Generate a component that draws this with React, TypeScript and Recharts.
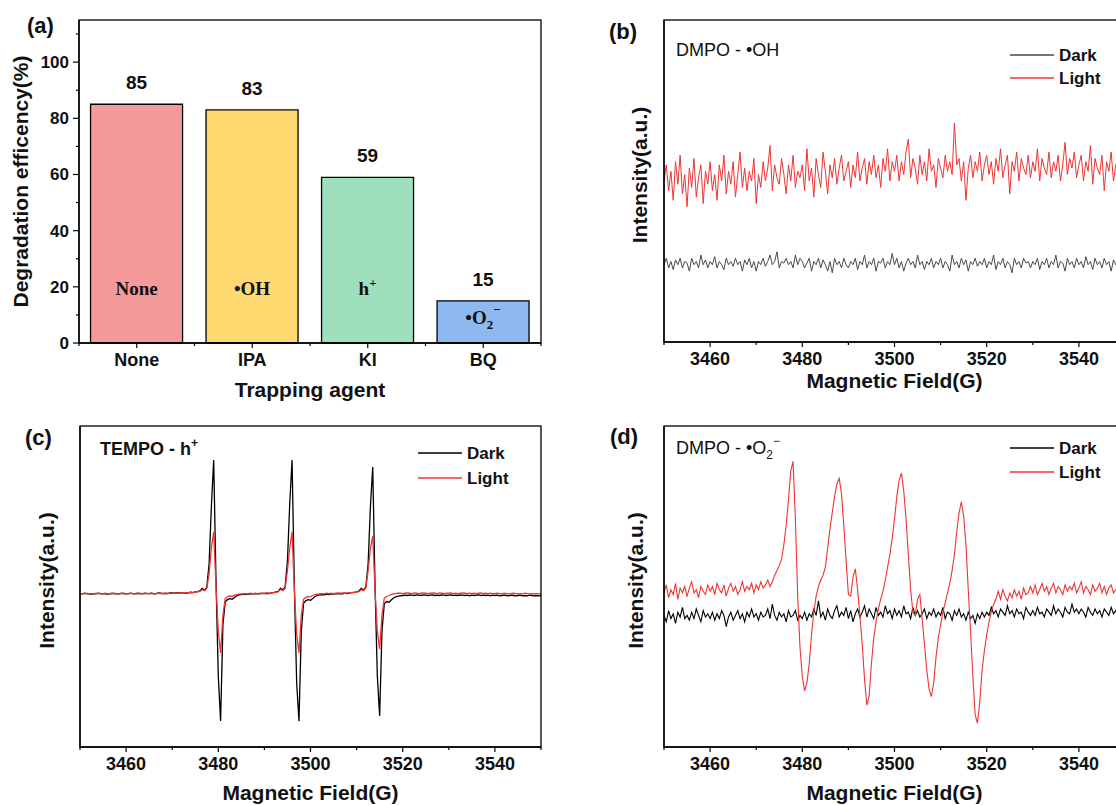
import React from 'react';
import { BarChart, Bar, Cell, LabelList, LineChart, Line, XAxis, YAxis } from 'recharts';

// (a) trapping experiment
const AGENTS = ['None', 'IPA', 'KI', 'BQ'];
const EFFICIENCY = [85, 83, 59, 15];
const BAR_COLORS = ['#F5999A', '#FDD970', '#9EE0BB', '#8EB8F0'];
const RADICAL = ['None', '•OH', 'h', '•O'];
const RADICAL_SUB = ['', '', '', '2'];
const RADICAL_SUP = ['', '', '+', '−'];
const EFF_TICKS = [0, 10, 20, 30, 40, 50, 60, 70, 80, 90, 100, 110];
const EFF_LABELS = [0, 20, 40, 60, 80, 100];
const EFF_MAX = 115;

// (b)-(d) ESR spectra, 0.5 G steps from 3450 to 3550 G
const FIELD = Array.from({ length: 201 }, (_, i) => 3450 + i * 0.5);
const FIELD_MIN = 3450;
const FIELD_MAX = 3550;
const FIELD_TICKS = [3450, 3460, 3470, 3480, 3490, 3500, 3510, 3520, 3530, 3540, 3550];
const FIELD_LABELS = [3460, 3480, 3500, 3520, 3540];
const INTENSITY_MAX = 100;

const OH_DARK = [
  24, 26, 23, 25, 22.5, 25.5, 24, 26, 23, 25, 24.5, 22, 26, 24, 25, 23, 27, 24, 25.5, 23,
  25, 24, 26.5, 23, 25, 24, 22.5, 26, 24, 25, 23.5, 26, 24, 25, 22, 25.5, 24, 26, 23, 25,
  22, 25, 24, 26, 23.5, 25, 27, 24, 25, 28, 23, 25, 24.5, 26, 24, 25, 23, 27, 24, 26,
  25, 23, 24.5, 26, 22, 25, 24, 26, 23, 25.5, 24, 22, 25, 21.5, 26, 24, 25, 23, 26, 24,
  23, 25, 24, 26, 22.5, 25, 24, 27, 23, 25, 24, 26, 22, 25, 24.5, 26, 23, 25, 24, 27.5,
  24, 26, 23, 25, 22, 24.5, 26, 24, 25, 23, 27, 24, 25, 22.5, 25, 24, 26, 23, 25, 24,
  26, 23, 25, 24, 22, 27, 24, 25, 23, 26, 24, 25.5, 22, 25, 24, 26, 23.5, 25, 24, 26,
  23, 25, 24, 27, 22.5, 25, 24, 26, 23, 25, 24, 21.5, 26, 24, 25, 23, 26, 24.5, 25, 23,
  25, 24, 26, 22.5, 25, 24, 26, 23, 25, 24, 27, 23, 25, 24.5, 22, 26, 24, 25, 23, 26,
  24, 25, 23, 26.5, 24, 25, 22.5, 26, 24, 25, 23, 26, 24, 25, 22, 25.5, 24, 26, 23, 25,
  24,
];
const OH_LIGHT = [
  50, 55, 47, 53, 44, 56, 49, 58, 46, 52, 42, 54, 48, 57, 45, 51, 55, 43, 53, 49,
  56, 47, 52, 44, 55, 50, 58, 46, 53, 49, 56, 45, 52, 59, 48, 54, 47, 53, 50, 57,
  43, 52, 48, 56, 50, 54, 61, 47, 55, 51, 49, 57, 52, 46, 55, 50, 58, 48, 53, 51,
  55, 47, 60, 50, 54, 45, 57, 52, 48, 59, 53, 46, 55, 51, 57, 49, 54, 58, 50, 53,
  56, 48, 55, 51, 59, 50, 54, 57, 49, 56, 52, 58, 51, 55, 48, 57, 53, 60, 50, 56,
  53, 58, 50, 56, 52, 59, 63, 51, 57, 54, 49, 58, 52, 56, 50, 60, 53, 55, 48, 57,
  54, 51, 58, 53, 56, 52, 68, 55, 57, 50, 56, 44, 54, 58, 51, 56, 53, 59, 50, 55,
  58, 52, 56, 49, 57, 53, 60, 51, 55, 58, 46, 56, 53, 59, 50, 57, 54, 52, 58, 51,
  56, 53, 60, 50, 57, 54, 52, 59, 51, 56, 53, 58, 50, 55, 62, 52, 57, 54, 59, 51,
  55, 58, 50, 56, 53, 61, 49, 57, 54, 52, 58, 47, 56, 53, 59, 50, 55, 57, 48, 54,
  56,
];

const TEMPO_DARK = [
  47.8, 47.7, 47.9, 47.7, 47.8, 47.6, 47.8, 47.7, 47.9, 47.8, 47.7, 47.8, 47.6, 47.8, 47.9, 47.7, 47.8, 47.7, 47.9, 47.8,
  47.7, 47.8, 47.9, 47.7, 47.8, 47.9, 47.8, 47.7, 47.9, 47.8, 47.8, 47.9, 47.7, 47.8, 48.0, 47.9, 47.8, 47.9, 47.8, 48.0,
  48.0, 47.9, 48.1, 47.9, 48.0, 48.1, 47.9, 48.0, 48.2, 48.1, 48.3, 48.4, 48.6, 49.4, 48.8, 49.8, 57, 75, 89.4, 52,
  22, 8.1, 38, 45.2, 45.9, 46.2, 46.0, 46.6, 47.1, 47.4, 47.5, 47.6, 47.5, 47.7, 47.6, 47.8, 47.7, 47.8, 47.7, 47.9,
  47.8, 47.9, 47.8, 48.0, 48.1, 48.3, 48.5, 49.5, 48.9, 50.0, 58, 76, 89.4, 50, 20, 8.0, 36, 44.8, 45.6, 45.9,
  45.7, 46.3, 46.9, 47.2, 47.4, 47.5, 47.4, 47.6, 47.5, 47.7, 47.6, 47.8, 47.7, 47.8, 47.7, 47.9, 47.8, 48.0, 48.1, 48.2,
  48.3, 48.6, 49.4, 48.9, 49.8, 57, 75, 87.2, 50, 22, 9.7, 36, 44.6, 45.3, 45.1, 45.8, 46.4, 46.8, 47.0, 47.1,
  47.2, 47.3, 47.2, 47.4, 47.3, 47.2, 47.4, 47.3, 47.2, 47.4, 47.3, 47.2, 47.3, 47.4, 47.2, 47.3, 47.2, 47.4, 47.3, 47.2,
  47.3, 47.4, 47.2, 47.3, 47.2, 47.4, 47.3, 47.2, 47.3, 47.1, 47.3, 47.2, 47.3, 47.4, 47.2, 47.3, 47.2, 47.3, 47.1, 47.3,
  47.2, 47.3, 47.1, 47.2, 47.3, 47.2, 47.1, 47.3, 47.2, 47.1, 47.2, 47.3, 47.1, 47.2, 47.1, 47.3, 47.2, 47.1, 47.2, 47.1,
  47.2,
];
const TEMPO_LIGHT = [
  47.7, 47.8, 47.7, 47.9, 47.7, 47.8, 47.7, 47.9, 47.8, 47.7, 47.8, 47.9, 47.7, 47.8, 47.7, 47.9, 47.8, 47.7, 47.8, 47.9,
  47.8, 47.7, 47.9, 47.8, 47.7, 47.8, 47.9, 47.8, 47.7, 47.9, 47.8, 47.9, 47.8, 47.7, 47.9, 47.8, 47.9, 47.8, 47.9, 47.8,
  47.9, 48.0, 47.9, 48.0, 47.9, 48.1, 48.0, 48.1, 48.2, 48.1, 48.3, 48.3, 48.5, 49.0, 48.7, 49.4, 54, 62, 67, 50,
  36, 29.3, 41, 46.2, 46.8, 47.1, 46.9, 47.3, 47.5, 47.6, 47.7, 47.8, 47.7, 47.8, 47.9, 47.8, 47.9, 47.8, 47.9, 47.8,
  47.9, 48.0, 47.9, 48.0, 48.1, 48.2, 48.4, 49.1, 48.7, 49.4, 55, 62, 67, 49, 35, 29.3, 41, 46, 46.6, 46.9,
  46.8, 47.2, 47.5, 47.6, 47.7, 47.8, 47.7, 47.9, 47.8, 47.9, 47.8, 47.9, 48.0, 47.9, 48.0, 47.9, 48.0, 48.1, 48.1, 48.2,
  48.3, 48.4, 49.0, 48.7, 49.5, 55, 62, 65.7, 49, 36, 30.5, 41, 46.3, 46.9, 47.2, 47.5, 47.7, 47.8, 47.9, 47.9,
  47.8, 47.9, 48.0, 47.9, 47.8, 48.0, 47.9, 47.8, 47.9, 48.0, 47.9, 47.8, 47.9, 48.0, 47.9, 47.8, 48.0, 47.9, 47.8, 47.9,
  47.9, 48.0, 47.8, 47.9, 47.8, 47.9, 48.0, 47.9, 47.8, 47.9, 47.8, 47.9, 47.8, 47.9, 48.0, 47.8, 47.9, 47.8, 47.9, 47.8,
  47.8, 47.9, 47.8, 47.7, 47.9, 47.8, 47.7, 47.8, 47.9, 47.8, 47.7, 47.8, 47.7, 47.9, 47.8, 47.7, 47.8, 47.7, 47.8, 47.7,
  47.8,
];

const O2_DARK = [
  41, 39, 42.5, 40, 41.5, 38.5, 42, 40.5, 43.5, 40, 41, 39.5, 42, 40, 43, 41, 39, 42.5, 40.5, 41.5,
  40, 42, 39.5, 41.5, 40, 42.5, 41, 37.5, 40.5, 42, 39.5, 41, 42.5, 40, 41.5, 39, 42, 40.5, 43, 40.5,
  41.5, 39.5, 42, 40.5, 41, 43, 40, 44.5, 41, 39.5, 42, 40.5, 41.5, 39, 42.5, 40.5, 41, 42.5, 39.5, 41,
  40, 42, 39.5, 41.5, 40.5, 43, 41, 45.5, 40.5, 42, 39.5, 43, 41, 40, 42.5, 44, 40.5, 42, 41, 43.5,
  40, 42.5, 39, 41.5, 43, 40.5, 42, 44, 40.5, 43, 41.5, 40, 43.5, 41, 42, 40.5, 44, 41.5, 42.5, 40,
  43, 41, 42.5, 40.5, 44, 41.5, 42, 40, 43.5, 41, 42.5, 40.5, 41.5, 43, 40, 42, 41, 43, 40.5, 42,
  41, 43.5, 40, 42, 41.5, 39.5, 42.5, 41, 43, 40.5, 41.5, 39.5, 42, 40, 41, 38.5, 41.5, 40, 42, 40.5,
  42, 41, 43.5, 41.5, 42.5, 40.5, 43, 42, 41, 44, 41.5, 42.5, 40.5, 43, 41.5, 42, 40, 43.5, 42, 41,
  42.5, 41, 43.5, 41.5, 42, 40.5, 43, 42, 41, 44, 41.5, 43, 42, 40.5, 43.5, 42, 41.5, 44.5, 42, 43,
  41.5, 43, 42, 40.5, 43.5, 42, 41, 43, 41.5, 42.5, 40.5, 43, 42, 41, 43.5, 41.5, 42.5, 40, 43, 41.5,
  42,
];
const O2_LIGHT = [
  48, 50.5, 46.5, 49, 47.5, 51, 46, 49.5, 48, 50, 47, 49.5, 51.5, 48, 49, 46.5, 50, 48.5, 47.5, 50.5,
  48.5, 50, 47.5, 51, 49, 48, 50.5, 47, 49.5, 51, 48.5, 50, 47.5, 49, 51.5, 48.5, 50, 49, 51, 48,
  50.5, 49, 51.5, 49.5, 50.5, 52, 50, 51.5, 53.5, 55, 56.5, 58.5, 63, 69, 77, 86, 89, 71, 47, 31,
  22, 17.5, 20, 26, 35, 42, 47, 50, 52, 53.5, 56, 62, 68, 73, 78, 82, 83.7, 79, 69, 58,
  47.5, 47, 53, 55.5, 49, 41, 32, 21, 13, 16, 26, 34, 39, 43, 46, 48.5, 52, 56, 60, 65,
  71, 78, 83, 85.3, 80, 71, 60, 49, 42, 41, 46, 47.5, 40, 32, 24, 18, 15.7, 20, 28, 34,
  38, 42, 45, 48, 51, 55, 60, 67, 73, 76.4, 72, 63, 49, 36, 22, 10, 7.4, 14, 24, 30,
  35, 39, 42, 44.5, 46, 48.5, 46, 49, 47, 45.5, 48, 46.5, 49, 47, 48.5, 46, 49.5, 47.5, 48, 50,
  48, 50.5, 47.5, 49, 51, 48.5, 50, 47.5, 49.5, 51, 48, 50, 49, 47.5, 50.5, 48.5, 50, 49, 51, 48,
  49.5, 51.5, 48, 50, 49, 47.5, 50.5, 48.5, 49.5, 51, 48, 50, 47.5, 49.5, 50.5, 48, 49, 50.5, 47.5, 49,
  48.5,
];

const AXIS_LINE = { stroke: '#000', strokeWidth: 1.3 };
const RED = '#EF3434';

// panel boxes: chart position/size, margins and axis sizes
const LAYOUT_A = { left: 0, top: 0, width: 560, height: 405, marginTop: 20, marginRight: 19, yAxisWidth: 79, xAxisHeight: 62 };
const LAYOUT_B = { left: 560, top: 0, width: 580, height: 405, marginTop: 20, marginRight: 15, yAxisWidth: 104, xAxisHeight: 63 };
const LAYOUT_C = { left: 0, top: 405, width: 560, height: 400, marginTop: 21, marginRight: 19, yAxisWidth: 80, xAxisHeight: 58 };
const LAYOUT_D = { left: 560, top: 405, width: 580, height: 400, marginTop: 21, marginRight: 15, yAxisWidth: 104, xAxisHeight: 58 };

const plotBox = (l: any) => ({
  x: l.left + l.yAxisWidth,
  y: l.top + l.marginTop,
  w: l.width - l.marginRight - l.yAxisWidth,
  h: l.height - l.marginTop - l.xAxisHeight,
});
const A_PLOT_W = plotBox(LAYOUT_A).w;

function EffTick(props: any) {
  const { x, y, payload } = props;
  const labeled = EFF_LABELS.includes(payload.value);
  return (
    <g>
      <line x1={x} y1={y} x2={x - (labeled ? 6 : 3)} y2={y} stroke="#000" strokeWidth={1.2} />
      {labeled && (
        <text x={x - 10} y={y + 6} textAnchor="end" fontSize={17} fontWeight="bold" fill="#111">
          {payload.value}
        </text>
      )}
    </g>
  );
}

function AgentTick(props: any) {
  const { x, y, payload, index } = props;
  const half = A_PLOT_W / AGENTS.length / 2;
  return (
    <g stroke="#000" strokeWidth={1.2}>
      <line x1={x} y1={y} x2={x} y2={y + 5} />
      <line x1={x - half} y1={y} x2={x - half} y2={y + 3} />
      {index === AGENTS.length - 1 && <line x1={x + half} y1={y} x2={x + half} y2={y + 3} />}
      <text x={x} y={y + 23} textAnchor="middle" fontSize={18} fontWeight="bold" fill="#111" stroke="none">
        {payload.value}
      </text>
    </g>
  );
}

function FieldTick(props: any) {
  const { x, y, payload } = props;
  const labeled = FIELD_LABELS.includes(payload.value);
  return (
    <g>
      <line x1={x} y1={y} x2={x} y2={y + (labeled ? 5 : 3)} stroke="#000" strokeWidth={1.2} />
      {labeled && (
        <text x={x} y={y + 23} textAnchor="middle" fontSize={18} fontWeight="bold" fill="#111">
          {payload.value}
        </text>
      )}
    </g>
  );
}

// radical name inside each bar: low in tall bars, centred in short ones
function RadicalLabel(props: any) {
  const { x, y, width, height, index } = props;
  const baseline = Math.max(y + height - 48, y + height / 2 + 2);
  const sub = RADICAL_SUB[index];
  const sup = RADICAL_SUP[index];
  return (
    <text
      x={x + width / 2}
      y={baseline}
      textAnchor="middle"
      fontFamily="'Liberation Serif', 'Times New Roman', serif"
      fontWeight="bold"
      fontSize={19}
      fill="#111"
    >
      {RADICAL[index]}
      {sub && <tspan dy={5} fontSize={13}>{sub}</tspan>}
      {sup && <tspan dy={sub ? -15 : -8} fontSize={13}>{sup}</tspan>}
    </text>
  );
}

function TrappingPanel() {
  const l = LAYOUT_A;
  const data = AGENTS.map((agent, i) => ({ agent, eff: EFFICIENCY[i] }));
  return (
    <div style={{ position: 'absolute', left: l.left, top: l.top }}>
      <BarChart width={l.width} height={l.height} data={data} margin={{ top: l.marginTop, right: l.marginRight, bottom: 0, left: 0 }} barCategoryGap="10%">
        <XAxis
          dataKey="agent"
          height={l.xAxisHeight}
          interval={0}
          tickLine={false}
          tickSize={0}
          tickMargin={0}
          tick={<AgentTick />}
          axisLine={AXIS_LINE}
          label={{ value: 'Trapping agent', position: 'insideBottom', offset: 8, fontSize: 21, fontWeight: 'bold', fill: '#111' }}
        />
        <YAxis
          domain={[0, EFF_MAX]}
          ticks={EFF_TICKS}
          interval={0}
          width={l.yAxisWidth}
          tickLine={false}
          tickSize={0}
          tickMargin={0}
          tick={<EffTick />}
          axisLine={AXIS_LINE}
          label={{
            value: 'Degradation efficency(%)',
            angle: -90,
            position: 'insideLeft',
            offset: 21,
            style: { textAnchor: 'middle', fontSize: 21, fontWeight: 'bold', fill: '#111' },
          }}
        />
        <Bar dataKey="eff" stroke="#000" strokeWidth={1.3} isAnimationActive={false}>
          {data.map((d, i) => (
            <Cell key={d.agent} fill={BAR_COLORS[i]} />
          ))}
          <LabelList dataKey="eff" position="top" offset={15} fontSize={19} fontWeight="bold" fill="#111" />
          <LabelList dataKey="eff" content={<RadicalLabel />} />
        </Bar>
      </BarChart>
    </div>
  );
}

function EsrPanel(props: any) {
  const { layout: l, yLabelOffset, xLabelOffset, dark, light, darkColor, lineWidth } = props;
  const data = FIELD.map((field, i) => ({ field, dark: dark[i], light: light[i] }));
  return (
    <div style={{ position: 'absolute', left: l.left, top: l.top }}>
      <LineChart width={l.width} height={l.height} data={data} margin={{ top: l.marginTop, right: l.marginRight, bottom: 0, left: 0 }}>
        <XAxis
          dataKey="field"
          type="number"
          domain={[FIELD_MIN, FIELD_MAX]}
          ticks={FIELD_TICKS}
          interval={0}
          height={l.xAxisHeight}
          tickLine={false}
          tickSize={0}
          tickMargin={0}
          tick={<FieldTick />}
          axisLine={AXIS_LINE}
          label={{ value: 'Magnetic Field(G)', position: 'insideBottom', offset: xLabelOffset, fontSize: 21, fontWeight: 'bold', fill: '#111' }}
        />
        <YAxis
          domain={[0, INTENSITY_MAX]}
          width={l.yAxisWidth}
          tick={false}
          tickLine={false}
          axisLine={AXIS_LINE}
          label={{
            value: 'Intensity(a.u.)',
            angle: -90,
            position: 'insideLeft',
            offset: yLabelOffset,
            dy: -6,
            style: { textAnchor: 'middle', fontSize: 21, fontWeight: 'bold', fill: '#111' },
          }}
        />
        <Line type="linear" dataKey="dark" stroke={darkColor} strokeWidth={lineWidth} dot={false} isAnimationActive={false} />
        <Line type="linear" dataKey="light" stroke={RED} strokeWidth={lineWidth} dot={false} isAnimationActive={false} />
      </LineChart>
    </div>
  );
}

function LegendRows({ x, y1, y2, darkColor }: any) {
  return (
    <g fontSize={17} fontWeight="bold" fill="#111">
      <line x1={x} y1={y1} x2={x + 44} y2={y1} stroke={darkColor} strokeWidth={1.3} />
      <text x={x + 49} y={y1 + 6}>Dark</text>
      <line x1={x} y1={y2} x2={x + 44} y2={y2} stroke={RED} strokeWidth={1.3} />
      <text x={x + 49} y={y2 + 6}>Light</text>
    </g>
  );
}

export default function App() {
  return (
    <div
      style={{
        position: 'absolute',
        left: 0,
        top: 0,
        width: 1116,
        height: 805,
        overflow: 'hidden',
        background: '#fff',
        fontFamily: '"Liberation Sans", Arial, sans-serif',
      }}
    >
      <TrappingPanel />
      <EsrPanel layout={LAYOUT_B} yLabelOffset={80} xLabelOffset={17} dark={OH_DARK} light={OH_LIGHT} darkColor="#4A4A4A" lineWidth={1} />
      <EsrPanel layout={LAYOUT_C} yLabelOffset={47} xLabelOffset={5} dark={TEMPO_DARK} light={TEMPO_LIGHT} darkColor="#000" lineWidth={1.3} />
      <EsrPanel layout={LAYOUT_D} yLabelOffset={76} xLabelOffset={5} dark={O2_DARK} light={O2_LIGHT} darkColor="#000" lineWidth={1.1} />

      <svg width={1116} height={805} style={{ position: 'absolute', left: 0, top: 0, pointerEvents: 'none' }}>
        {/* plot frames */}
        {[LAYOUT_A, LAYOUT_B, LAYOUT_C, LAYOUT_D].map((l, i) => {
          const b = plotBox(l);
          return <rect key={i} x={b.x} y={b.y} width={b.w} height={b.h} fill="none" stroke="#000" strokeWidth={1.3} />;
        })}
        <g fontSize={22} fontWeight="bold" fill="#111">
          <text x={27} y={33}>(a)</text>
          <text x={609} y={39}>(b)</text>
          <text x={25} y={445}>(c)</text>
          <text x={610} y={444}>(d)</text>
        </g>
        <text x={676} y={56} fontSize={18} fill="#111">DMPO - •OH</text>
        <text x={100} y={455} fontSize={18} fontWeight="bold" fill="#111">
          TEMPO - h<tspan dy={-8} fontSize={12}>+</tspan>
        </text>
        <text x={676} y={454} fontSize={18} fill="#111">
          DMPO - •O<tspan dy={5} fontSize={12}>2</tspan>
          <tspan dy={-14} fontSize={12}>−</tspan>
        </text>
        <LegendRows x={1010} y1={55} y2={78} darkColor="#4A4A4A" />
        <LegendRows x={418} y1={453} y2={478} darkColor="#000" />
        <LegendRows x={1010} y1={448} y2={472} darkColor="#000" />
      </svg>
    </div>
  );
}
